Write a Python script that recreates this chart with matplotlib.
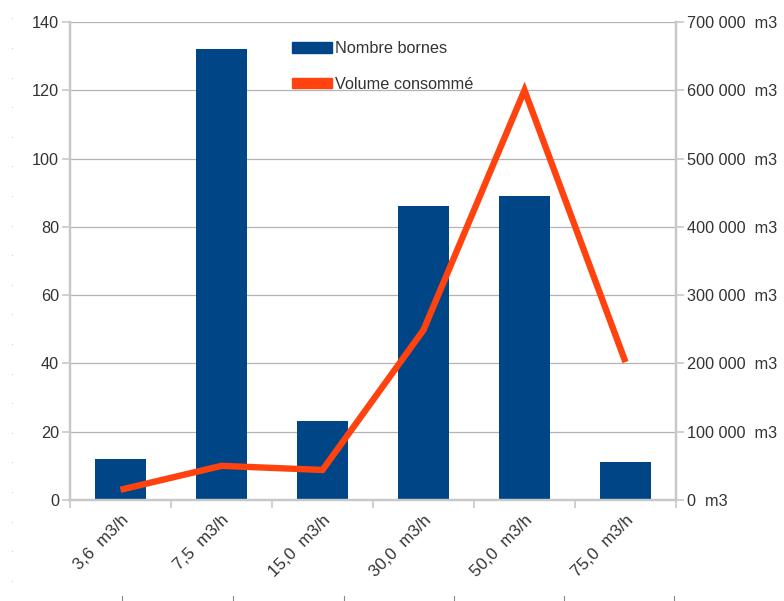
"""Bar + line combo: nombre de bornes et volume consommé par débit."""
import matplotlib.pyplot as plt
from matplotlib.patches import Patch
from matplotlib.ticker import FuncFormatter, MultipleLocator

plt.rcParams["font.family"] = ["Liberation Sans", "DejaVu Sans"]

CATEGORIES = ["3,6  m3/h", "7,5  m3/h", "15,0  m3/h", "30,0  m3/h", "50,0  m3/h", "75,0  m3/h"]
NB_BORNES = [12, 132, 23, 86, 89, 11]
VOLUME = [15000, 50000, 44000, 249000, 600000, 202000]

BLUE = "#004586"
ORANGE = "#ff420e"
GRID = "#b3b3b3"
TEXT = "#333333"
FS = 11.7


def fmt_m3(v, _pos):
    s = f"{int(round(v)):,}".replace(",", " ")
    return f"{s}  m3"


fig = plt.figure(figsize=(7.84, 6.01), dpi=100)
ax = fig.add_axes([70 / 784, 101 / 601, 606 / 784, 478 / 601])
ax2 = ax.twinx()

x = list(range(len(CATEGORIES)))
ax.bar(x, NB_BORNES, width=0.5, color=BLUE, zorder=2)
ax2.plot(x, VOLUME, color=ORANGE, lw=4.6, solid_capstyle="butt",
         solid_joinstyle="miter", zorder=3)

ax.set_xlim(-0.5, len(CATEGORIES) - 0.5)
ax.set_ylim(0, 140)
ax2.set_ylim(0, 700000)
ax.yaxis.set_major_locator(MultipleLocator(20))
ax2.yaxis.set_major_locator(MultipleLocator(100000))
ax2.yaxis.set_major_formatter(FuncFormatter(fmt_m3))

ax.grid(axis="y", color=GRID, lw=0.9, zorder=0)
ax.set_axisbelow(True)

for a in (ax, ax2):
    a.spines["top"].set_visible(False)
    for side in ("left", "right", "bottom"):
        a.spines[side].set_color("#c8c8c8")
        a.spines[side].set_linewidth(1.6)

ax.set_xticks([i - 0.5 for i in range(len(CATEGORIES) + 1)])
ax.set_xticklabels([])
ax.set_xticks(x, minor=True)
ax.set_xticklabels(CATEGORIES, minor=True, rotation=45, ha="right",
                   rotation_mode="anchor", fontsize=12.2, color=TEXT)
ax.tick_params(axis="x", which="major", length=6, color="#c8c8c8", width=1.2)
ax.tick_params(axis="x", which="minor", length=0, pad=9)
ax.tick_params(axis="y", length=6, color="#c8c8c8", width=1.2,
               labelsize=FS, labelcolor=TEXT, pad=2)
ax2.tick_params(axis="y", length=6, color="#c8c8c8", width=1.2,
                labelsize=FS, labelcolor=TEXT, pad=2)

handles = [Patch(color=BLUE, label="Nombre bornes"),
           Patch(color=ORANGE, label="Volume consommé")]
leg = ax.legend(handles=handles, loc="upper left",
                bbox_to_anchor=(0.342, 0.99), frameon=False,
                handlelength=2.45, handleheight=0.65, handletextpad=0.2,
                labelspacing=1.25, fontsize=FS)
for t in leg.get_texts():
    t.set_color(TEXT)

# faint ruler marks along the page edges
for k in range(20):
    fig.text(12 / 784, 1 - (20 + k * 29.6) / 601, "·", color="#aaaaaa",
             fontsize=6, ha="center", va="center")
for xp in [122, 233, 344, 454, 564, 674]:
    fig.add_artist(plt.Line2D([xp / 784, xp / 784], [0, 5 / 601],
                              color="#888888", lw=0.8))

fig.savefig("out.png", dpi=100)
